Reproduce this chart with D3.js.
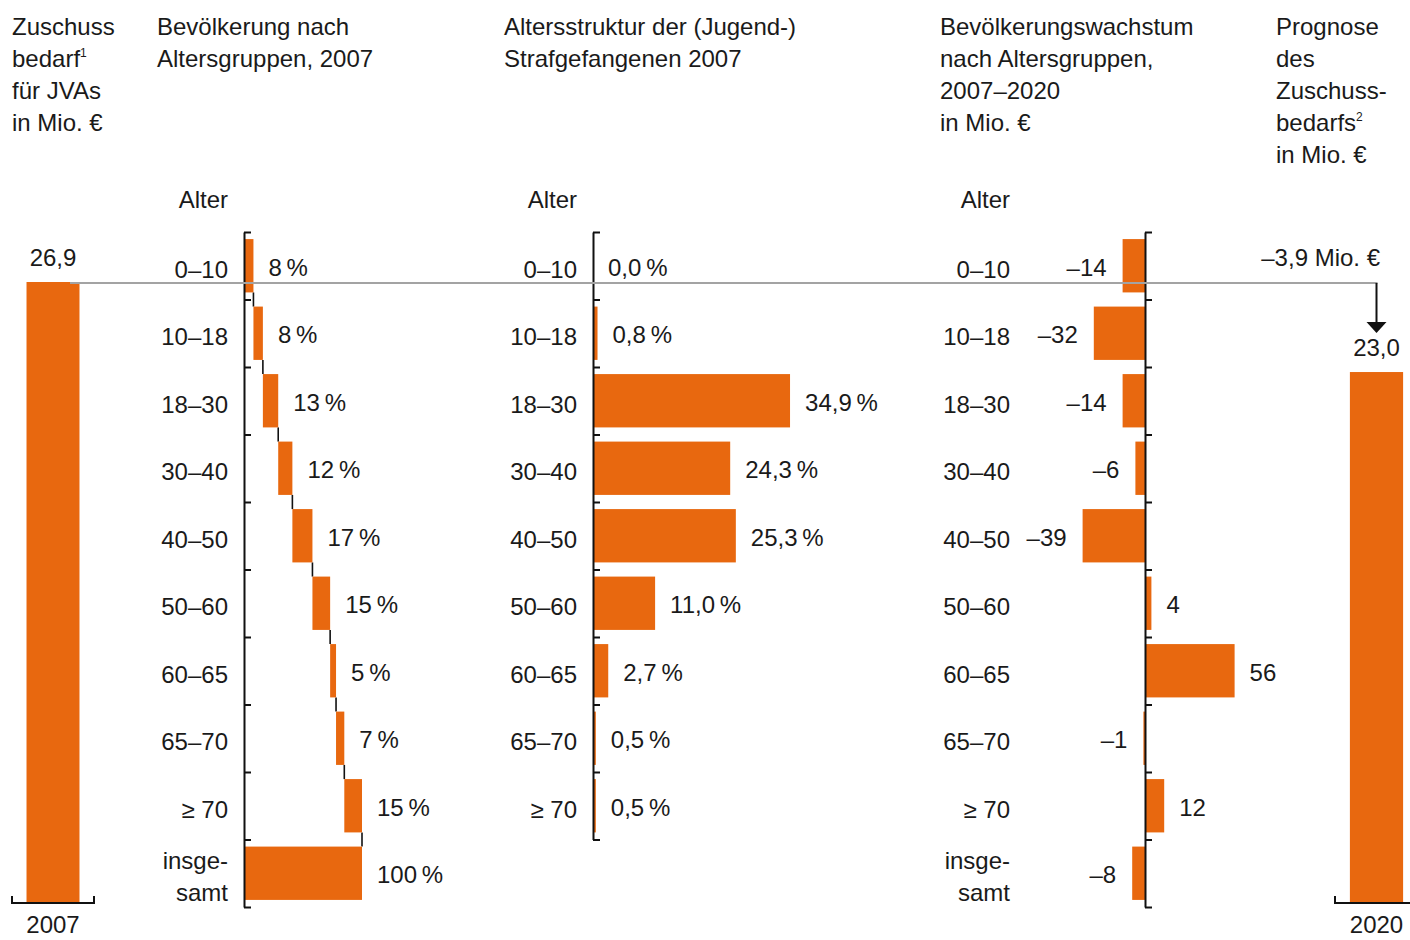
<!DOCTYPE html>
<html>
<head>
<meta charset="utf-8">
<script src="https://cdn.jsdelivr.net/npm/d3@7"></script>
<style>
  html, body { margin: 0; padding: 0; background: #fff; }
  svg { display: block; }
  text { font-family: "Liberation Sans", Arial, sans-serif; fill: #1a1a1a; }
</style>
</head>
<body>
<svg id="chart" width="1410" height="940"></svg>
<script>
// ---------- data ----------
const ageGroups = ["0–10", "10–18", "18–30", "30–40", "40–50", "50–60", "60–65", "65–70", "≥ 70"];
const totalLabel = ["insge-", "samt"];
const popShare2007 = [8, 8, 13, 12, 17, 15, 5, 7, 15];
const popShareTotal = 100;
const prisonerShare2007 = [0.0, 0.8, 34.9, 24.3, 25.3, 11.0, 2.7, 0.5, 0.5];
const popGrowth = [-14, -32, -14, -6, -39, 4, 56, -1, 12];
const popGrowthTotal = -8;
const years = ["2007", "2020"];
const subsidy = [26.9, 23.0];
const subsidyChange = -3.9;

const headers = [
  {x: 12,   lines: [["Zuschuss"], ["bedarf", "1"], ["für JVAs"], ["in Mio. €"]]},
  {x: 157,  lines: [["Bevölkerung nach"], ["Altersgruppen, 2007"]]},
  {x: 504,  lines: [["Altersstruktur der (Jugend-)"], ["Strafgefangenen 2007"]]},
  {x: 940,  lines: [["Bevölkerungswachstum"], ["nach Altersgruppen,"], ["2007–2020"], ["in Mio. €"]]},
  {x: 1276, lines: [["Prognose"], ["des"], ["Zuschuss-"], ["bedarfs", "2"], ["in Mio. €"]]}
];

// ---------- setup ----------
const ORANGE = "#e8680f";
const FS = 24;
const svg = d3.select("#chart");
const de = d3.formatLocale({decimal: ",", thousands: ".", grouping: [3], currency: ["", " €"], minus: "–"});
const f1 = de.format(".1f");
const f0 = de.format("d");
const pct0 = v => f0(v) + "\u2009%";
const pct1 = v => f1(v) + "\u2009%";

// headers
headers.forEach(h => {
  h.lines.forEach((ln, i) => {
    const t = svg.append("text").attr("x", h.x).attr("y", 35 + i * 32).attr("font-size", FS);
    t.append("tspan").text(ln[0]);
    if (ln[1]) t.append("tspan").attr("font-size", 12).attr("dy", -10).text(ln[1]);
  });
});

// row scale (shared)
const rows = [...ageGroups, "total"];
const yRow = d3.scaleBand().domain(rows).range([232, 907]).padding(0);
const step = yRow.step();
const barY = r => yRow(r) + step * 0.105;
const barH = step * 0.79;
const labelY = r => yRow(r) + step / 2 + 12;
const valueY = r => yRow(r) + step / 2 + 10;

function tickAxis(x, nRows) {
  const s = d3.scaleLinear().domain([0, nRows]).range([232, 232 + step * nRows]);
  const g = svg.append("g").attr("transform", `translate(${x},0)`)
    .call(d3.axisRight(s).tickValues(d3.range(0, nRows + 1)).tickFormat("").tickSize(7).tickSizeOuter(0));
  g.select(".domain").attr("stroke", "#111").attr("stroke-width", 2);
  g.selectAll(".tick line").attr("stroke", "#111").attr("stroke-width", 2);
}

function catLabels(xRight, withTotal) {
  svg.append("text").attr("x", xRight).attr("y", 208).attr("text-anchor", "end").attr("font-size", FS).text("Alter");
  ageGroups.forEach(a => {
    svg.append("text").attr("x", xRight).attr("y", labelY(a)).attr("text-anchor", "end").attr("font-size", FS).text(a);
  });
  if (withTotal) {
    const c = yRow("total") + step / 2;
    svg.append("text").attr("x", xRight).attr("y", c - 4).attr("text-anchor", "end").attr("font-size", FS).text(totalLabel[0]);
    svg.append("text").attr("x", xRight).attr("y", c + 28).attr("text-anchor", "end").attr("font-size", FS).text(totalLabel[1]);
  }
}

// ---------- panel 1: waterfall population share ----------
const x1 = d3.scaleLinear().domain([0, 100]).range([244, 362]);
let cum = 0;
const wf = popShare2007.map((v, i) => { const d = {r: ageGroups[i], v, s: cum, e: cum + v}; cum += v; return d; });
wf.push({r: "total", v: popShareTotal, s: 0, e: popShareTotal});

// connectors
const conn = svg.append("g");
for (let i = 1; i < wf.length; i++) {
  const xc = x1(wf[i - 1].e);
  conn.append("line").attr("x1", xc).attr("x2", xc)
    .attr("y1", barY(wf[i - 1].r) + barH).attr("y2", barY(wf[i].r))
    .attr("stroke", "#111").attr("stroke-width", 1.6);
}
svg.append("g").selectAll("rect").data(wf).join("rect")
  .attr("x", d => x1(d.s)).attr("width", d => x1(d.e) - x1(d.s))
  .attr("y", d => barY(d.r)).attr("height", barH).attr("fill", ORANGE);
svg.append("g").selectAll("text").data(wf).join("text")
  .attr("x", d => x1(d.e) + 15).attr("y", d => valueY(d.r)).attr("font-size", FS)
  .text(d => pct0(d.v));
tickAxis(244, 10);
catLabels(228, true);

// ---------- panel 2: prisoners ----------
const x2 = d3.scaleLinear().domain([0, 35]).range([593, 790.6]);
const pr = prisonerShare2007.map((v, i) => ({r: ageGroups[i], v}));
svg.append("g").selectAll("rect").data(pr).join("rect")
  .attr("x", x2(0)).attr("width", d => x2(d.v) - x2(0))
  .attr("y", d => barY(d.r)).attr("height", barH).attr("fill", ORANGE);
svg.append("g").selectAll("text").data(pr).join("text")
  .attr("x", d => x2(d.v) + 15).attr("y", d => valueY(d.r)).attr("font-size", FS)
  .text(d => pct1(d.v));
tickAxis(593, 9);
catLabels(577, false);

// ---------- panel 3: population growth ----------
const x3 = d3.scaleLinear().domain([-40, 60]).range([1081, 1241]);
const gr = popGrowth.map((v, i) => ({r: ageGroups[i], v}));
gr.push({r: "total", v: popGrowthTotal});
svg.append("g").selectAll("rect").data(gr).join("rect")
  .attr("x", d => x3(Math.min(0, d.v))).attr("width", d => Math.abs(x3(d.v) - x3(0)))
  .attr("y", d => barY(d.r)).attr("height", barH).attr("fill", ORANGE);
svg.append("g").selectAll("text").data(gr).join("text")
  .attr("x", d => d.v < 0 ? x3(d.v) - 16 : x3(d.v) + 15)
  .attr("text-anchor", d => d.v < 0 ? "end" : "start")
  .attr("y", d => valueY(d.r)).attr("font-size", FS)
  .text(d => f0(d.v));
tickAxis(1145, 10);
catLabels(1010, true);

// ---------- subsidy bars ----------
const ySub = d3.scaleLinear().domain([0, 26.9]).range([903, 282]);
const xLeft = d3.scaleBand().domain([years[0]]).range([12, 94]).paddingInner(0).paddingOuter(0.274);
const xRight = d3.scaleBand().domain([years[1]]).range([1335, 1418]).paddingInner(0).paddingOuter(0.28);
const subs = [
  {year: years[0], v: subsidy[0], xs: xLeft},
  {year: years[1], v: subsidy[1], xs: xRight}
];
subs.forEach(d => {
  const bx = d.xs(d.year), bw = d.xs.bandwidth();
  svg.append("rect").attr("x", bx).attr("width", bw).attr("y", ySub(d.v)).attr("height", ySub(0) - ySub(d.v)).attr("fill", ORANGE);
  svg.append("text").attr("x", bx + bw / 2).attr("y", ySub(d.v) - 16).attr("text-anchor", "middle").attr("font-size", FS).text(f1(d.v));
  svg.append("text").attr("x", bx + bw / 2).attr("y", 933).attr("text-anchor", "middle").attr("font-size", FS).text(d.year);
  const [r0, r1] = d.xs.range();
  svg.append("path").attr("d", `M${r0},${ySub(0) - 7}V${ySub(0)}H${r1}V${ySub(0) - 7}`)
    .attr("fill", "none").attr("stroke", "#111").attr("stroke-width", 2);
});

// reference line + arrow
const yRef = ySub(subsidy[0]) + 1;
const arrowX = xRight(years[1]) + xRight.bandwidth() / 2;
svg.append("line").attr("x1", 70).attr("x2", arrowX + 1).attr("y1", yRef).attr("y2", yRef)
  .attr("stroke", "#a3a3a3").attr("stroke-width", 2);
const tipY = ySub(subsidy[1]) - 39;
svg.append("line").attr("x1", arrowX).attr("x2", arrowX).attr("y1", yRef).attr("y2", tipY - 9)
  .attr("stroke", "#111").attr("stroke-width", 2);
svg.append("path").attr("d", `M${arrowX - 10},${tipY - 11}L${arrowX + 10},${tipY - 11}L${arrowX},${tipY}Z`).attr("fill", "#111");
svg.append("text").attr("x", 1380).attr("y", 266).attr("text-anchor", "end").attr("font-size", FS)
  .text(f1(subsidyChange) + " Mio. €");
</script>
</body>
</html>
